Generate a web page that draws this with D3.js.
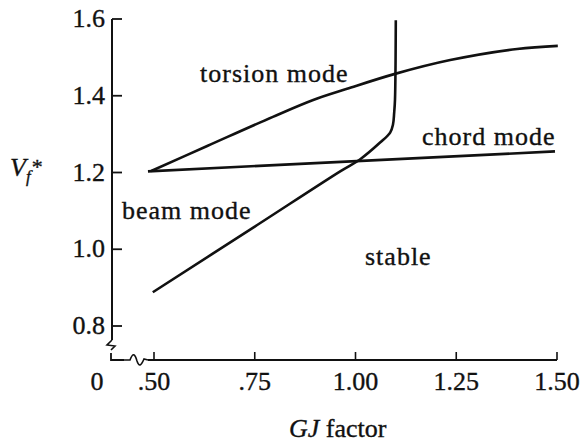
<!DOCTYPE html>
<html>
<head>
<meta charset="utf-8">
<script src="https://cdn.jsdelivr.net/npm/d3@7"></script>
<style>
  body { margin: 0; background: #fff; }
  svg text { font-family: "Liberation Serif", "DejaVu Serif", serif; fill: #111; stroke: #111; stroke-width: 0.35px; }
</style>
</head>
<body>
<div id="chart"></div>
<script>
const width = 583, height = 443;

// GJ factor vs flutter speed
const torsionGJ = [0.493, 0.632, 0.795, 0.895, 0.979, 1.098, 1.235, 1.401, 1.502];
const torsionV  = [1.204, 1.269, 1.345, 1.389, 1.418, 1.457, 1.493, 1.522, 1.530];

const chordGJ = [0.485, 1.495];
const chordV  = [1.203, 1.255];

const beamGJ = [0.497, 0.75, 0.962, 1.011, 1.061, 1.086, 1.093, 1.096, 1.098, 1.10];
const beamV  = [0.888, 1.059, 1.203, 1.234, 1.278, 1.304, 1.325, 1.356, 1.39, 1.597];

const xTicks = [0.5, 0.75, 1.0, 1.25, 1.5];
const xTickLabels = [".50", ".75", "1.00", "1.25", "1.50"];
const yTicks = [0.8, 1.0, 1.2, 1.4, 1.6];
const yTickLabels = ["0.8", "1.0", "1.2", "1.4", "1.6"];

const svg = d3.select("#chart").append("svg")
    .attr("width", width)
    .attr("height", height);

const x = d3.scaleLinear().domain([0.5, 1.5]).range([154, 557]);
const y = d3.scaleLinear().domain([0.8, 1.6]).range([326, 19]);

const axisX = 112;   // y axis position
const axisY = 360;   // x axis position
const ink = "#111";

// Y axis: line down to the break
svg.append("line")
    .attr("x1", axisX).attr("x2", axisX)
    .attr("y1", y(1.6)).attr("y2", 340)
    .attr("stroke", ink).attr("stroke-width", 2);

// small zigzag break on y axis
svg.append("path")
    .attr("d", `M${axisX},340 L${axisX - 5},345 L${axisX + 3},346 L${axisX - 1},350`)
    .attr("fill", "none").attr("stroke", ink).attr("stroke-width", 1.6);

// corner below the break
svg.append("path")
    .attr("d", `M${axisX - 1},353 L${axisX - 1},${axisY} L${axisX + 12},${axisY}`)
    .attr("fill", "none").attr("stroke", ink).attr("stroke-width", 1.8);

// squiggle break on x axis
svg.append("path")
    .attr("d", `M${axisX + 12},${axisY} L${axisX + 18},${axisY} C${axisX + 21},${axisY - 8} ${axisX + 23},${axisY - 6} ${axisX + 25},${axisY + 1}`
        + ` C${axisX + 27},${axisY + 7} ${axisX + 29},${axisY + 6} ${axisX + 32},${axisY - 1} L${axisX + 36},${axisY}`)
    .attr("fill", "none").attr("stroke", ink).attr("stroke-width", 1.6);

// X axis line
svg.append("line")
    .attr("x1", axisX + 36).attr("x2", x(1.5))
    .attr("y1", axisY).attr("y2", axisY)
    .attr("stroke", ink).attr("stroke-width", 2);

// y ticks (pointing inward)
yTicks.forEach((t, i) => {
    svg.append("line")
        .attr("x1", axisX).attr("x2", axisX + 10)
        .attr("y1", y(t)).attr("y2", y(t))
        .attr("stroke", ink).attr("stroke-width", 1.8);
    svg.append("text")
        .attr("x", axisX - 7)
        .attr("y", y(t) + 8)
        .attr("text-anchor", "end")
        .style("font-size", "26px")
        .text(yTickLabels[i]);
});

// x ticks (pointing up)
xTicks.forEach((t, i) => {
    svg.append("line")
        .attr("x1", x(t)).attr("x2", x(t))
        .attr("y1", axisY).attr("y2", axisY - 8)
        .attr("stroke", ink).attr("stroke-width", 1.6);
    svg.append("text")
        .attr("x", x(t))
        .attr("y", 390)
        .attr("text-anchor", "middle")
        .style("font-size", "26px")
        .text(xTickLabels[i]);
});

svg.append("text")
    .attr("x", 97).attr("y", 390)
    .attr("text-anchor", "middle")
    .style("font-size", "26px")
    .text("0");

// curves
const line = d3.line()
    .x(d => x(d[0]))
    .y(d => y(d[1]))
    .curve(d3.curveCatmullRom.alpha(0.5));

const curves = [
    d3.zip(torsionGJ, torsionV),
    d3.zip(chordGJ, chordV),
    d3.zip(beamGJ, beamV)
];

svg.selectAll("path.curve")
    .data(curves)
    .join("path")
    .attr("class", "curve")
    .attr("d", line)
    .attr("fill", "none")
    .attr("stroke", ink)
    .attr("stroke-width", 2.6)
    .attr("stroke-linejoin", "round");

// region labels
const labels = [
    { text: "torsion mode", x: 200, y: 82 },
    { text: "chord mode", x: 422, y: 145 },
    { text: "beam mode", x: 122, y: 219 },
    { text: "stable", x: 365, y: 265 }
];
svg.selectAll("text.region")
    .data(labels)
    .join("text")
    .attr("class", "region")
    .attr("x", d => d.x)
    .attr("y", d => d.y)
    .style("font-size", "26px")
    .style("letter-spacing", "1px")
    .text(d => d.text);

// axis titles
const yt = svg.append("text").attr("x", 10).attr("y", 176).style("font-size", "26px");
yt.append("tspan").style("font-style", "italic").text("V");
yt.append("tspan").style("font-style", "italic").style("font-size", "17px").attr("dx", 0).attr("dy", 6).text("f");
yt.append("tspan").style("font-size", "22px").attr("dx", 1).attr("dy", -8).text("*");

const xt = svg.append("text").attr("x", 289).attr("y", 437).style("font-size", "26px");
xt.append("tspan").style("font-style", "italic").text("GJ");
xt.append("tspan").text(" factor");
</script>
</body>
</html>
